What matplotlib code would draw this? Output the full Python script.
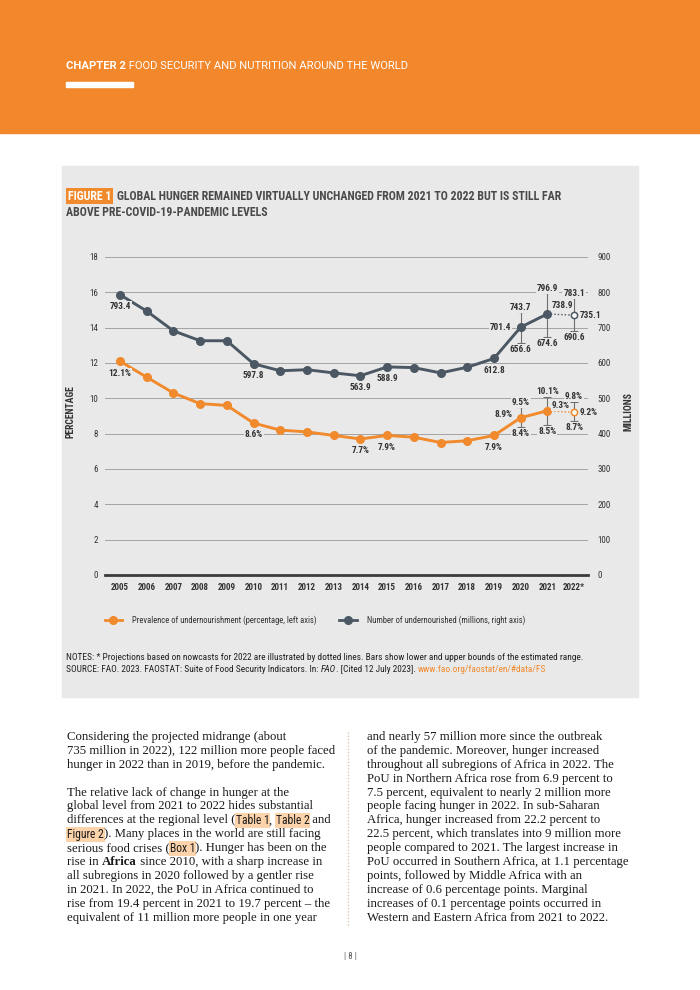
import matplotlib.pyplot as plt
from matplotlib import font_manager as fm
from matplotlib.lines import Line2D
from matplotlib.patches import Rectangle


def pick_narrow():
    for fam in ["Roboto Condensed", "Liberation Sans Narrow", "Arial Narrow"]:
        try:
            fm.findfont(fm.FontProperties(family=fam), fallback_to_default=False)
            return fam, "normal"
        except ValueError:
            pass
    path = fm.findfont(fm.FontProperties(family="DejaVu Sans", stretch="condensed"))
    if "Condensed" in path:
        return "DejaVu Sans", "condensed"
    return "Roboto", "normal"


NARROW, STRETCH = pick_narrow()
plt.rcParams["font.family"] = [NARROW, "DejaVu Sans"]
plt.rcParams["font.stretch"] = STRETCH

# ---- data ----
years = list(range(2005, 2023))
year_labels = [str(y) for y in years[:-1]] + ["2022*"]
pou = [12.1, 11.2, 10.3, 9.7, 9.6, 8.6, 8.2, 8.1, 7.9, 7.7, 7.9, 7.8, 7.5, 7.6, 7.9, 8.9, 9.3, 9.2]
nou = [793.4, 747, 691, 663, 663, 597.8, 578, 581, 572, 563.9, 588.9, 587, 572, 588, 612.8, 701.4, 738.9, 735.1]
range_years = [2020, 2021, 2022]
pou_low = [8.4, 8.5, 8.7]
pou_high = [9.5, 10.1, 9.8]
nou_low = [656.6, 674.6, 690.6]
nou_high = [743.7, 796.9, 783.1]
labelled_years = [2005, 2010, 2014, 2015, 2019]

ORANGE = "#F08A2C"
SLATE = "#4B5863"
PANEL = "#E9E9EA"
BAR = "#6E6E6E"
TXT = "#333333"

W, H = 700, 990
fig = plt.figure(figsize=(7, 9.9), dpi=100)
fig.patch.set_facecolor("white")


def fx(px):
    return px / W


def fy(py):
    return 1 - py / H


# header band and grey panel
fig.patches.append(Rectangle((0, fy(133)), 1, 133 / H, transform=fig.transFigure, color="#F3872B", zorder=-2))
fig.patches.append(Rectangle((fx(66), fy(87)), fx(67), 5 / H, transform=fig.transFigure, color="white", zorder=-1))
fig.patches.append(Rectangle((fx(62), fy(697)), fx(576), 531 / H, transform=fig.transFigure, color=PANEL, zorder=-2))

renderer = fig.canvas.get_renderer()


def text_run(x, y, parts, **base):
    """Draw a line made of differently styled pieces, left to right (x, y in pixels)."""
    xf = fx(x)
    for txt, style in parts:
        kw = {**base, **style}
        fig.text(xf, fy(y), txt, va="center", ha="left", **kw)
        plain = {k: v for k, v in kw.items() if k != "bbox"}
        # advance of txt = width("|txt|") - width("||")
        probe = fig.text(0, 0, "|" + txt + "|", **plain)
        bars = fig.text(0, 0, "||", **plain)
        adv = probe.get_window_extent(renderer).width - bars.get_window_extent(renderer).width
        probe.remove()
        bars.remove()
        xf += adv / fig.bbox.width


text_run(66, 66, [("CHAPTER 2", {"fontweight": "bold"}),
                  (" FOOD SECURITY AND NUTRITION AROUND THE WORLD", {})],
         color="white", fontsize=8.1, family=["Roboto", "DejaVu Sans"], stretch="normal")

# figure title
fig.text(fx(67.5), fy(196), "FIGURE 1", color="white", fontsize=8.6, fontweight="bold", va="center",
         bbox=dict(facecolor=ORANGE, edgecolor="none", boxstyle="square,pad=0.14"))
fig.text(fx(117), fy(196), "GLOBAL HUNGER REMAINED VIRTUALLY UNCHANGED FROM 2021 TO 2022 BUT IS STILL FAR",
         color="#4A4A4A", fontsize=8.6, fontweight="bold", va="center")
fig.text(fx(66), fy(213), "ABOVE PRE-COVID-19-PANDEMIC LEVELS",
         color="#4A4A4A", fontsize=8.6, fontweight="bold", va="center")

# ---- chart ----
ax = fig.add_axes([fx(105), fy(575), fx(483), 318 / H])
ax.set_facecolor("none")
ax2 = ax.twinx()
ax2.set_facecolor("none")

ax.set_xlim(2004.44, 2022.52)
ax.set_ylim(0, 18)
ax2.set_ylim(0, 900)
ax.set_yticks(range(0, 19, 2))
ax2.set_yticks(range(0, 901, 100))
ax.set_xticks(years)
ax.set_xticklabels(year_labels)
ax.yaxis.grid(True, color="#A3A3A3", lw=0.7)
ax.set_axisbelow(True)
for a in (ax, ax2):
    for s in a.spines.values():
        s.set_visible(False)
    a.tick_params(length=0, labelsize=6.5, labelcolor=TXT)
ax.spines["bottom"].set_visible(True)
ax.spines["bottom"].set_color("#3C3C3C")
ax.spines["bottom"].set_linewidth(2)
ax.tick_params(axis="x", pad=6)
ax.tick_params(axis="y", pad=5)
ax2.tick_params(axis="y", pad=7)
for lab in ax.get_xticklabels():
    lab.set_fontweight("bold")

fig.text(fx(70), fy(412), "PERCENTAGE", rotation=90, fontsize=7, fontweight="bold", color=TXT, ha="center", va="center")
fig.text(fx(628), fy(412), "MILLIONS", rotation=90, fontsize=7, fontweight="bold", color=TXT, ha="center", va="center")


def draw_series(a, vals, low, high, color):
    a.errorbar(range_years, vals[-3:], yerr=[[v - l for v, l in zip(vals[-3:], low)],
                                             [h - v for v, h in zip(vals[-3:], high)]],
               fmt="none", ecolor=BAR, elinewidth=0.8, capsize=2.6, capthick=0.8, zorder=2)
    a.plot(years[:-1], vals[:-1], color=color, lw=2.1, marker="o", ms=5.5, zorder=3)
    a.plot(years[-2:], vals[-2:], color=color, lw=1, ls=(0, (1, 1.5)), zorder=2)
    a.plot(years[-1:], vals[-1:], ls="none", marker="o", ms=4.5, mfc="white", mec=color, mew=1.1, zorder=3)


draw_series(ax, pou, pou_low, pou_high, ORANGE)
draw_series(ax2, nou, nou_low, nou_high, SLATE)

lab_kw = dict(textcoords="offset points", fontsize=6.7, fontweight="bold", color=TXT, zorder=4,
              bbox=dict(facecolor=PANEL, edgecolor="none", boxstyle="square,pad=0.1"))


def label_series(a, vals, low, high, fmt, side):
    for y in labelled_years:
        v = vals[years.index(y)]
        a.annotate(fmt.format(v), (y, v), xytext=(0, -8.5), ha="center", va="center", **lab_kw)
    for i, y in enumerate(range_years):
        v = vals[years.index(y)]
        a.annotate(fmt.format(high[i]), (y, high[i]), xytext=(0, 0.3), ha="center", va="bottom", **lab_kw)
        a.annotate(fmt.format(low[i]), (y, low[i]), xytext=(0, -1.5), ha="center", va="top", **lab_kw)
        dx, dy, ha = side[i]
        a.annotate(fmt.format(v), (y, v), xytext=(dx, dy), ha=ha, va="center", **lab_kw)


label_series(ax2, nou, nou_low, nou_high, "{:.1f}", [(-7, 0, "right"), (3, 6, "left"), (4, 0, "left")])
label_series(ax, pou, pou_low, pou_high, "{:.1f}%", [(-6, 2, "right"), (3, 4, "left"), (4, 0, "left")])

# legend
handles = [Line2D([], [], color=ORANGE, lw=2, marker="o", ms=5.5),
           Line2D([], [], color=SLATE, lw=2, marker="o", ms=5.5)]
fig.legend(handles, ["Prevalence of undernourishment (percentage, left axis)",
                     "Number of undernourished (millions, right axis)"],
           loc="center", bbox_to_anchor=(fx(315), fy(620)), ncol=2, frameon=False,
           fontsize=6.2, handlelength=2.0, handletextpad=1.2, columnspacing=2.6, labelcolor=TXT)

# notes
fig.text(fx(66), fy(657), "NOTES: * Projections based on nowcasts for 2022 are illustrated by dotted lines. "
         "Bars show lower and upper bounds of the estimated range.", fontsize=6.75, color="#222222", va="center")
text_run(66, 670, [("SOURCE: FAO. 2023. FAOSTAT: Suite of Food Security Indicators. In: ", {}),
                   ("FAO", {"fontstyle": "italic"}),
                   (". [Cited 12 July 2023]. ", {}),
                   ("www.fao.org/faostat/en/#data/FS", {"color": ORANGE})],
         fontsize=6.75, color="#222222")

# ---- body text ----
SERIF = ["Liberation Serif", "DejaVu Serif"]
HL = {"family": [NARROW, "DejaVu Sans"], "fontsize": 8.4,
      "bbox": dict(facecolor="#FCD3AA", edgecolor="none", boxstyle="square,pad=0.08")}
BOLD = {"fontweight": "bold"}

left_col = [
    [("Considering the projected midrange (about", {})],
    [("735 million in 2022), 122 million more people faced", {})],
    [("hunger in 2022 than in 2019, before the pandemic.", {})],
    [],
    [("The relative lack of change in hunger at the", {})],
    [("global level from 2021 to 2022 hides substantial", {})],
    [("differences at the regional level (", {}), ("Table 1", HL), (", ", {}), ("Table 2", HL), (" and", {})],
    [("Figure 2", HL), ("). Many places in the world are still facing", {})],
    [("serious food crises (", {}), ("Box 1", HL), ("). Hunger has been on the", {})],
    [("rise in ", {}), ("Africa", BOLD), (" since 2010, with a sharp increase in", {})],
    [("all subregions in 2020 followed by a gentler rise", {})],
    [("in 2021. In 2022, the PoU in Africa continued to", {})],
    [("rise from 19.4 percent in 2021 to 19.7 percent – the", {})],
    [("equivalent of 11 million more people in one year", {})],
]
right_col = [
    "and nearly 57 million more since the outbreak",
    "of the pandemic. Moreover, hunger increased",
    "throughout all subregions of Africa in 2022. The",
    "PoU in Northern Africa rose from 6.9 percent to",
    "7.5 percent, equivalent to nearly 2 million more",
    "people facing hunger in 2022. In sub-Saharan",
    "Africa, hunger increased from 22.2 percent to",
    "22.5 percent, which translates into 9 million more",
    "people compared to 2021. The largest increase in",
    "PoU occurred in Southern Africa, at 1.1 percentage",
    "points, followed by Middle Africa with an",
    "increase of 0.6 percentage points. Marginal",
    "increases of 0.1 percentage points occurred in",
    "Western and Eastern Africa from 2021 to 2022.",
]
LEAD = 13.9
BODY = dict(family=SERIF, fontsize=9.2, color="#1A1A1A", stretch="normal")
for i, parts in enumerate(left_col):
    if parts:
        text_run(67, 737 + i * LEAD, parts, **BODY)
for i, line in enumerate(right_col):
    fig.text(fx(367), fy(737 + i * LEAD), line, va="center", **BODY)

fig.add_artist(Line2D([fx(348), fx(348)], [fy(732), fy(925)], color="#D8BFA6", lw=0.9, ls=(0, (1, 1.6))))
fig.text(0.5, fy(956), "| 8 |", fontsize=6.5, color="#555555", ha="center", va="center")

fig.savefig("out.png", dpi=100)
